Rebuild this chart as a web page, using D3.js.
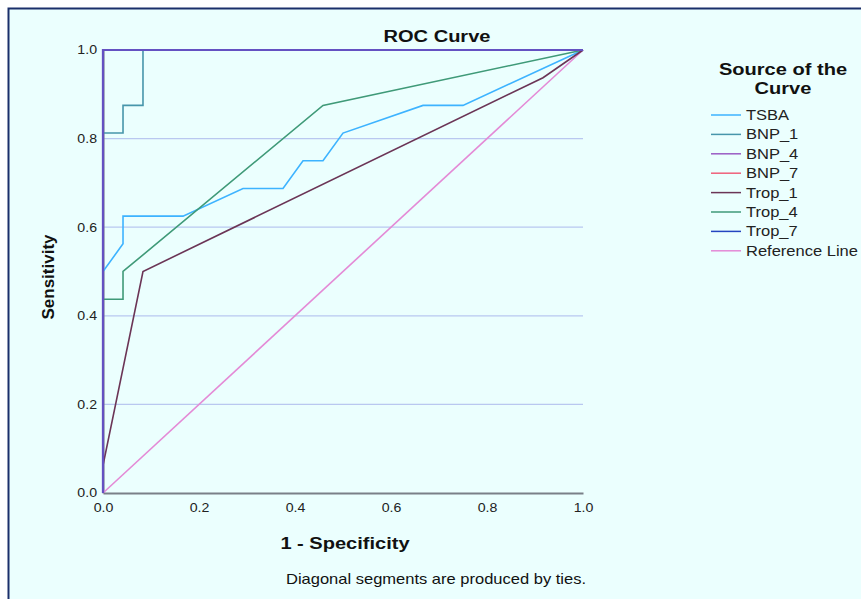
<!DOCTYPE html>
<html><head><meta charset="utf-8">
<script src="https://cdn.jsdelivr.net/npm/d3@7"></script>
<style>body{margin:0;background:#fff;}svg{display:block;font-family:"Liberation Sans",Arial,sans-serif;}</style>
</head><body>
<script>
// ROC curve points as [1 - specificity, sensitivity]
const seriesNames = ["TSBA","BNP_1","BNP_4","BNP_7","Trop_1","Trop_4","Trop_7","Reference Line"];
const seriesColors = ["#3db3ff","#4796ab","#9a5cc4","#f0607a","#6b3556","#3f9a78","#2444c0","#e48ad6"];
const TSBA = [[0,0],[0,0.5],[0.0417,0.5625],[0.0417,0.625],[0.1667,0.625],[0.2917,0.6875],[0.375,0.6875],[0.4167,0.75],[0.4583,0.75],[0.5,0.8125],[0.6667,0.875],[0.75,0.875],[1,1]];
const BNP_1 = [[0,0],[0,0.8125],[0.0417,0.8125],[0.0417,0.875],[0.0833,0.875],[0.0833,1],[1,1]];
const BNP_4 = [[0,0],[0,1],[1,1]];
const BNP_7 = [[0,0],[0,1],[1,1]];
const Trop_1 = [[0,0],[0,0.0625],[0.0833,0.5],[0.9167,0.9375],[1,1]];
const Trop_4 = [[0,0],[0,0.4375],[0.0417,0.4375],[0.0417,0.5],[0.4583,0.875],[1,1]];
const Trop_7 = [[0,0],[0,1],[1,1]];
const RefLine = [[0,0],[1,1]];
const seriesData = [TSBA,BNP_1,BNP_4,BNP_7,Trop_1,Trop_4,Trop_7,RefLine];
const tickValues = [0,0.2,0.4,0.6,0.8,1.0];
const gridValues = [0.2,0.4,0.6,0.8];

const W=861,H=599, SX=1.18;
const svg=d3.select("body").append("svg").attr("width",W).attr("height",H);
svg.append("rect").attr("x",8.5).attr("y",8.5).attr("width",W).attr("height",H).attr("fill","#ebfffe").attr("stroke","#1a2f6a").attr("stroke-width",2);

const x=d3.scaleLinear().domain([0,1]).range([103,583]);
const y=d3.scaleLinear().domain([0,1]).range([493,50]);

function label(px,py,str,size,bold,anchor,rot){
  const t=svg.append("text").attr("transform",`translate(${px},${py})${rot?" rotate(-90)":""} scale(${rot?1:SX},${rot?SX:1})`)
    .attr("text-anchor",anchor||"middle").attr("font-size",size).attr("fill","#111").text(str);
  if(bold) t.attr("font-weight","bold");
  return t;
}

// grid
svg.append("g").selectAll("line").data(gridValues).join("line")
  .attr("x1",x(0)).attr("x2",x(1)).attr("y1",d=>y(d)).attr("y2",d=>y(d))
  .attr("stroke","#b9c8f0").attr("stroke-width",1.2);

// axes
const xa=svg.append("g").attr("transform",`translate(0,${y(0)})`)
  .call(d3.axisBottom(x).tickValues(tickValues).tickFormat(d3.format(".1f")).tickSize(0).tickPadding(10));
xa.select(".domain").attr("stroke","#7a8088").attr("stroke-width",2);
xa.selectAll(".tick text").attr("font-size",12).attr("fill","#222").attr("font-family","Liberation Sans, Arial")
  .attr("transform",`scale(${SX},1)`).attr("x",0);
const ya=svg.append("g").attr("transform",`translate(${x(0)},0)`)
  .call(d3.axisLeft(y).tickValues(tickValues).tickFormat(d3.format(".1f")).tickSize(0).tickPadding(6));
ya.select(".domain").attr("stroke","#7a8088").attr("stroke-width",2);
ya.selectAll(".tick text").attr("font-size",12).attr("fill","#222").attr("font-family","Liberation Sans, Arial")
  .attr("x",-6/SX).attr("transform",`scale(${SX},1)`);

// curves
const line=d3.line().x(d=>x(d[0])).y(d=>y(d[1]));
const order=[7,0,1,3,5,4,2,6];
order.forEach(i=>{
  svg.append("path").datum(seriesData[i]).attr("d",line).attr("fill","none")
    .attr("stroke",seriesColors[i]).attr("stroke-width",i===2||i===6?2.2:1.6)
    .attr("stroke-opacity",i===6?0.45:1);
});

// titles
label(437,42,"ROC Curve",17,true);
label(345,549,"1 - Specificity",17,true);
label(54,277,"Sensitivity",17,true,"middle",true).attr("transform","translate(54,277) rotate(-90)");
label(436,584,"Diagonal segments are produced by ties.",14,false);

// legend
label(783,75,"Source of the",17,true);
label(783,94,"Curve",17,true);
seriesNames.forEach((d,i)=>{
  const yy=115+i*19.4;
  svg.append("line").attr("x1",711).attr("x2",741).attr("y1",yy).attr("y2",yy).attr("stroke",seriesColors[i]).attr("stroke-width",1.5);
  label(746,yy+5,d,14,false,"start").attr("fill","#222");
});
</script>
</body></html>
